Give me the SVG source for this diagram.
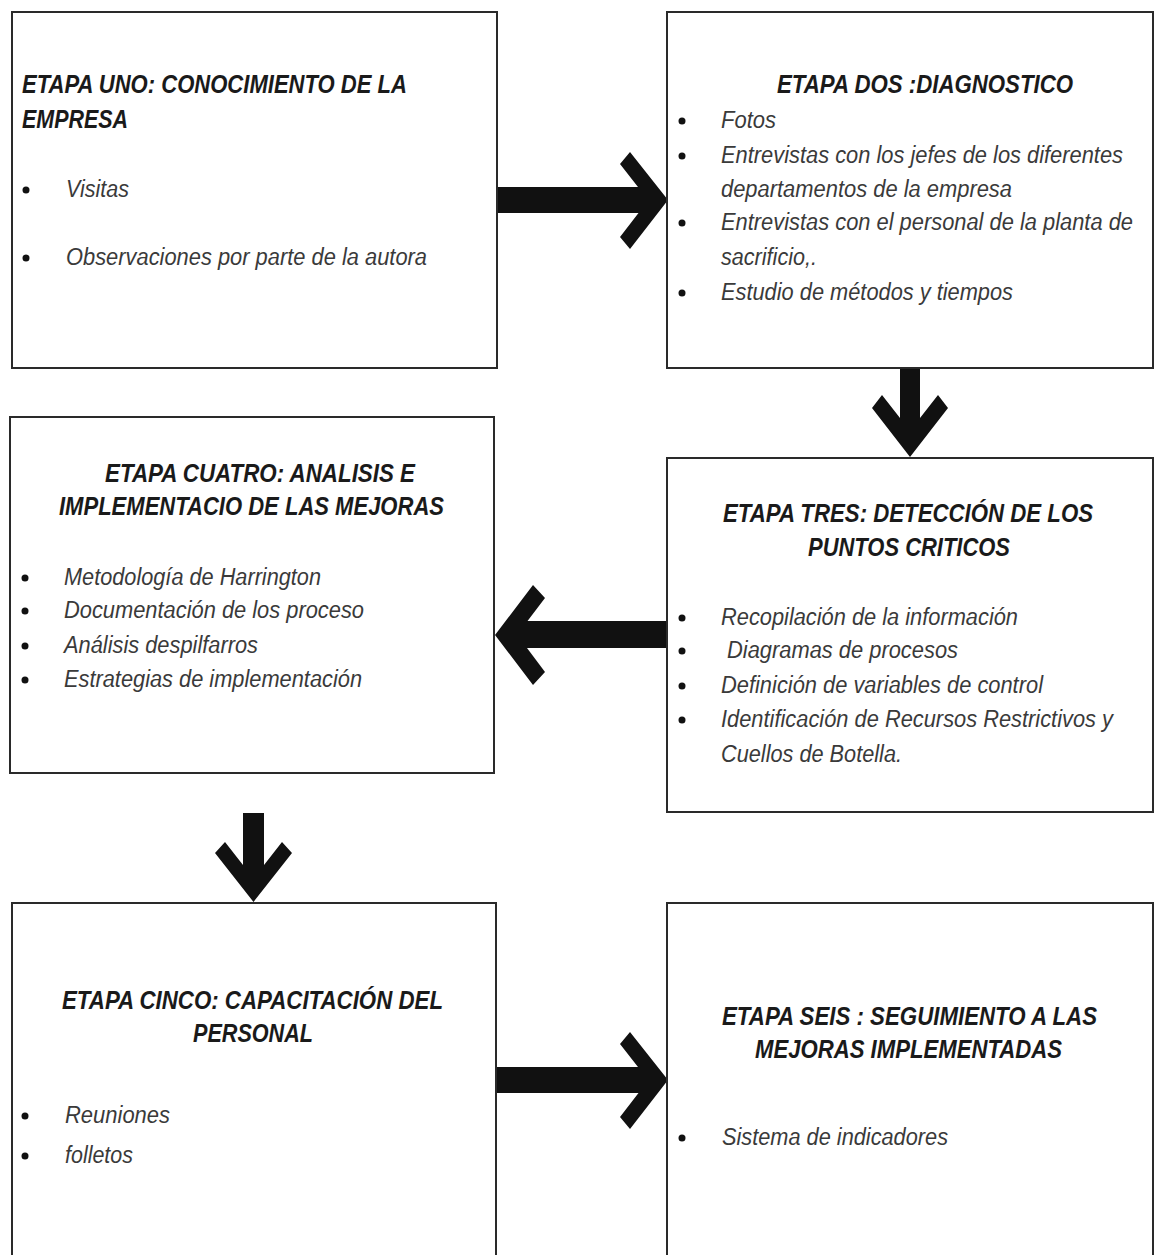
<svg xmlns="http://www.w3.org/2000/svg" width="1155" height="1255" viewBox="0 0 1155 1255">
<style>
.box{fill:#fff;stroke:#2a2a2a;stroke-width:2}
.t{font-family:"Liberation Sans",Arial,sans-serif;font-style:italic;font-weight:bold;font-size:25px;fill:#1a1a1a}
.i{font-family:"Liberation Sans",Arial,sans-serif;font-style:italic;font-size:23px;fill:#3a3a3a}
.b{fill:#111}
.arr{fill:#111}
</style>
<rect width="1155" height="1255" fill="#fff"/>
<g id="connectors">
<path class="arr" d="M496,187 H638 L620,164 L630,152 L668,200 L630,249 L620,237 L638.5,213 H496 Z"/>
<path class="arr" d="M900,368 V418 L882,395 L872,408 L910,457 L948,408 L938,395 L920,418 V368 Z"/>
<path class="arr" d="M668,621 H527.5 L545,598 L533,585 L495,635 L533,685 L545,672 L527,648 H668 Z"/>
<path class="arr" d="M243,813 V865 L225,842 L215,853 L253.5,902 L292,853 L282,842 L264,865 V813 Z"/>
<path class="arr" d="M496,1067 H638 L620,1044 L630,1032 L668,1080 L630,1129 L620,1117 L638.5,1093 H496 Z"/>
</g>
<g id="etapa1">
<rect class="box" x="12" y="12" width="485" height="356"/>
<text class="t" x="22" y="93" textLength="385" lengthAdjust="spacingAndGlyphs">ETAPA UNO: CONOCIMIENTO DE LA</text>
<text class="t" x="22" y="128" textLength="106" lengthAdjust="spacingAndGlyphs">EMPRESA</text>
<circle class="b" cx="26" cy="190" r="3.5"/>
<text class="i" x="66" y="197" textLength="63" lengthAdjust="spacingAndGlyphs">Visitas</text>
<circle class="b" cx="26" cy="258" r="3.5"/>
<text class="i" x="66" y="265" textLength="361" lengthAdjust="spacingAndGlyphs">Observaciones por parte de la autora</text>
</g>
<g id="etapa2">
<rect class="box" x="667" y="12" width="486" height="356"/>
<text class="t" x="777" y="93" textLength="296" lengthAdjust="spacingAndGlyphs">ETAPA DOS :DIAGNOSTICO</text>
<circle class="b" cx="682" cy="121" r="3.5"/>
<text class="i" x="721" y="128" textLength="55" lengthAdjust="spacingAndGlyphs">Fotos</text>
<circle class="b" cx="682" cy="156" r="3.5"/>
<text class="i" x="721" y="163" textLength="402" lengthAdjust="spacingAndGlyphs">Entrevistas con los jefes de los diferentes</text>
<text class="i" x="721" y="197" textLength="291" lengthAdjust="spacingAndGlyphs">departamentos de la empresa</text>
<circle class="b" cx="682" cy="223" r="3.5"/>
<text class="i" x="721" y="230" textLength="412" lengthAdjust="spacingAndGlyphs">Entrevistas con el personal de la planta de</text>
<text class="i" x="721" y="265" textLength="96" lengthAdjust="spacingAndGlyphs">sacrificio,.</text>
<circle class="b" cx="682" cy="293" r="3.5"/>
<text class="i" x="721" y="300" textLength="292" lengthAdjust="spacingAndGlyphs">Estudio de métodos y tiempos</text>
</g>
<g id="etapa3">
<rect class="box" x="667" y="458" width="486" height="354"/>
<text class="t" x="723" y="522" textLength="370" lengthAdjust="spacingAndGlyphs">ETAPA TRES: DETECCIÓN DE LOS</text>
<text class="t" x="808" y="556" textLength="202" lengthAdjust="spacingAndGlyphs">PUNTOS CRITICOS</text>
<circle class="b" cx="682" cy="618" r="3.5"/>
<text class="i" x="721" y="625" textLength="297" lengthAdjust="spacingAndGlyphs">Recopilación de la información</text>
<circle class="b" cx="682" cy="651" r="3.5"/>
<text class="i" x="727" y="658" textLength="231" lengthAdjust="spacingAndGlyphs">Diagramas de procesos</text>
<circle class="b" cx="682" cy="686" r="3.5"/>
<text class="i" x="721" y="693" textLength="322" lengthAdjust="spacingAndGlyphs">Definición de variables de control</text>
<circle class="b" cx="682" cy="720" r="3.5"/>
<text class="i" x="721" y="727" textLength="392" lengthAdjust="spacingAndGlyphs">Identificación de Recursos Restrictivos y</text>
<text class="i" x="721" y="762" textLength="181" lengthAdjust="spacingAndGlyphs">Cuellos de Botella.</text>
</g>
<g id="etapa4">
<rect class="box" x="10" y="417" width="484" height="356"/>
<text class="t" x="105" y="482" textLength="310" lengthAdjust="spacingAndGlyphs">ETAPA CUATRO: ANALISIS E</text>
<text class="t" x="59" y="515" textLength="385" lengthAdjust="spacingAndGlyphs">IMPLEMENTACIO DE LAS MEJORAS</text>
<circle class="b" cx="25" cy="578" r="3.5"/>
<text class="i" x="64" y="585" textLength="257" lengthAdjust="spacingAndGlyphs">Metodología de Harrington</text>
<circle class="b" cx="25" cy="611" r="3.5"/>
<text class="i" x="64" y="618" textLength="300" lengthAdjust="spacingAndGlyphs">Documentación de los proceso</text>
<circle class="b" cx="25" cy="646" r="3.5"/>
<text class="i" x="64" y="653" textLength="194" lengthAdjust="spacingAndGlyphs">Análisis despilfarros</text>
<circle class="b" cx="25" cy="680" r="3.5"/>
<text class="i" x="64" y="687" textLength="298" lengthAdjust="spacingAndGlyphs">Estrategias de implementación</text>
</g>
<g id="etapa5">
<rect class="box" x="12" y="903" width="484" height="370"/>
<text class="t" x="62" y="1009" textLength="381" lengthAdjust="spacingAndGlyphs">ETAPA CINCO: CAPACITACIÓN DEL</text>
<text class="t" x="193" y="1042" textLength="120" lengthAdjust="spacingAndGlyphs">PERSONAL</text>
<circle class="b" cx="25" cy="1116" r="3.5"/>
<text class="i" x="65" y="1123" textLength="105" lengthAdjust="spacingAndGlyphs">Reuniones</text>
<circle class="b" cx="25" cy="1156" r="3.5"/>
<text class="i" x="65" y="1163" textLength="68" lengthAdjust="spacingAndGlyphs">folletos</text>
</g>
<g id="etapa6">
<rect class="box" x="667" y="903" width="486" height="370"/>
<text class="t" x="722" y="1025" textLength="375" lengthAdjust="spacingAndGlyphs">ETAPA SEIS : SEGUIMIENTO A LAS</text>
<text class="t" x="755" y="1058" textLength="307" lengthAdjust="spacingAndGlyphs">MEJORAS IMPLEMENTADAS</text>
<circle class="b" cx="682" cy="1138" r="3.5"/>
<text class="i" x="722" y="1145" textLength="226" lengthAdjust="spacingAndGlyphs">Sistema de indicadores</text>
</g>
</svg>
